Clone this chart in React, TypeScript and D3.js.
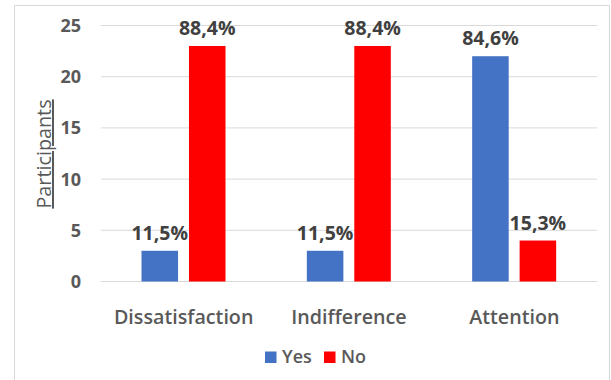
import React from "react";
import * as d3 from "d3";

const categories = ["Dissatisfaction", "Indifference", "Attention"];
const seriesNames = ["Yes", "No"];
const yesValues = [3, 3, 22];
const noValues = [23, 23, 4];
const yesLabels = ["11,5%", "11,5%", "84,6%"];
const noLabels = ["88,4%", "88,4%", "15,3%"];
const yTicks = [0, 5, 10, 15, 20, 25];
const colors = ["#4472C4", "#FF0000"];

const W = 611;
const H = 380;
const plot = { left: 101, right: 597, top: 25.5, bottom: 281.5 };
const FONT = "'Open Sans', 'Noto Sans', sans-serif";

export default function App() {
  const y = d3.scaleLinear().domain([0, 25]).range([plot.bottom, plot.top]);
  const x0 = d3.scaleBand<string>().domain(categories).range([plot.left, plot.right]).paddingInner(0).paddingOuter(0);
  const x1 = d3
    .scaleBand<string>()
    .domain(seriesNames)
    .range([40.5, 124.5])
    .paddingInner(0.23)
    .paddingOuter(0);
  const values = [yesValues, noValues];
  const labels = [yesLabels, noLabels];

  return (
    <svg width={W} height={H} style={{ position: "absolute", left: 0, top: 0 }}>
      <rect x={0} y={0} width={W} height={H} fill="#ffffff" />
      <rect x={14.5} y={5.5} width={595} height={400} fill="none" stroke="#d9d9d9" strokeWidth={1} />
      {yTicks.map((t) => (
        <g key={t}>
          <line x1={plot.left} x2={plot.right} y1={y(t)} y2={y(t)} stroke="#d9d9d9" strokeWidth={1} />
          <text
            x={81}
            y={y(t)}
            dy="0.36em"
            textAnchor="end"
            fontFamily={FONT}
            fontWeight={700}
            fontSize={18}
            fill="#595959"
          >
            {t}
          </text>
        </g>
      ))}
      {seriesNames.map((s, si) =>
        categories.map((c, ci) => {
          const bx = (x0(c) as number) + (x1(s) as number);
          const v = values[si][ci];
          return (
            <g key={s + c}>
              <rect x={bx} y={y(v)} width={x1.bandwidth()} height={y(0) - y(v)} fill={colors[si]} />
              <text
                x={bx + x1.bandwidth() / 2}
                y={y(v) - 11}
                textAnchor="middle"
                fontFamily={FONT}
                fontWeight={700}
                fontSize={19.5}
                fill="#404040"
              >
                {labels[si][ci]}
              </text>
            </g>
          );
        })
      )}
      {categories.map((c) => (
        <text
          key={c}
          x={(x0(c) as number) + x0.bandwidth() / 2}
          y={324}
          textAnchor="middle"
          fontFamily={FONT}
          fontWeight={600}
          fontSize={19.7}
          fill="#595959"
        >
          {c}
        </text>
      ))}
      <text
        transform={`translate(51,154) rotate(-90)`}
        textAnchor="middle"
        fontFamily={FONT}
        fontSize={19.8}
        fill="#595959"
        textDecoration="underline"
      >
        Participants
      </text>
      <g>
        {seriesNames.map((s, i) => {
          const lx = [265, 324][i];
          return (
            <g key={s}>
              <rect x={lx} y={351.5} width={11.5} height={11.5} fill={colors[i]} />
              <text x={lx + 17} y={363} fontFamily={FONT} fontWeight={600} fontSize={18} fill="#595959">
                {s}
              </text>
            </g>
          );
        })}
      </g>
    </svg>
  );
}
